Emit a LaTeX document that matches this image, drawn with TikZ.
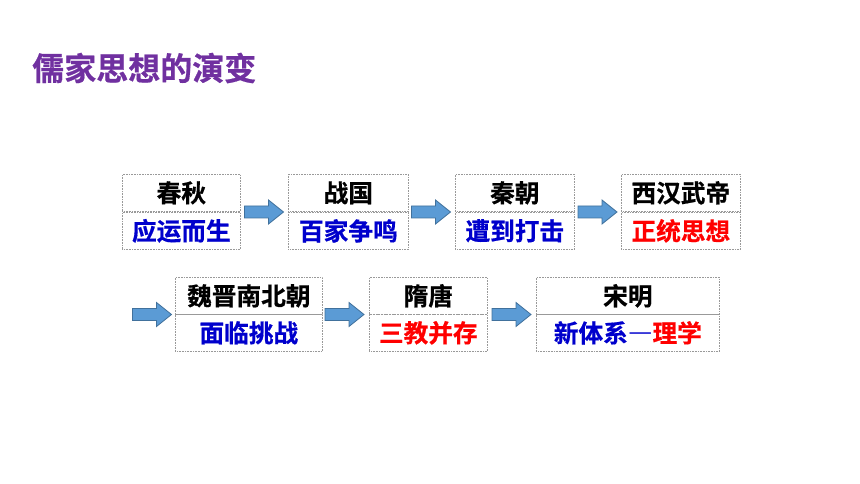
\documentclass[tikz,border=0pt]{standalone}
\usepackage{fontspec}
\newfontfamily\cjk{Noto Sans CJK SC}[BoldFont={Noto Sans CJK SC Bold},BoldFeatures={FakeBold=0.6}]
\definecolor{ttl}{RGB}{112,48,160}
\definecolor{tblue}{RGB}{0,0,204}
\definecolor{tred}{RGB}{255,0,0}
\definecolor{afill}{RGB}{91,155,213}
\definecolor{aline}{RGB}{65,113,156}
\newcommand\flowarrow[2]{%
  \draw[flowline] ($(#1)+(-19.5,-6)$) -- ($(#1)+(4.5,-6)$) -- ($(#1)+(4.5,-12)$)
    -- ($(#1)+(19.5,0)$) -- ($(#1)+(4.5,12)$) -- ($(#1)+(4.5,6)$)
    -- ($(#1)+(-19.5,6)$) -- cycle;}
\usetikzlibrary{calc}
\begin{document}
\begin{tikzpicture}[x=0.75pt,y=-0.75pt,
  cell/.style={draw=gray!80, line width=0.5pt, dash pattern=on 0.6pt off 0.6pt,
    anchor=north west, inner sep=0pt, minimum height=37*0.75pt,
    font=\cjk\bfseries\fontsize{18.5}{21}\selectfont},
  flowline/.style={draw=aline, fill=afill, line width=0.6pt, line join=miter},
]
\useasboundingbox (0,0) rectangle (860,484);
\node[anchor=west, text=ttl, font=\cjk\bfseries\fontsize{24}{28}\selectfont, inner sep=0pt] (title) at (32,68) {儒家思想的演变};
% row 1
\node[cell, minimum width=118*0.75pt] (t1) at (122,174) {春秋};
\node[cell, minimum width=118*0.75pt, text=tblue] (b1) at (122,212) {应运而生};
\node[cell, minimum width=120*0.75pt] (t2) at (288,174) {战国};
\node[cell, minimum width=120*0.75pt, text=tblue] (b2) at (288,212) {百家争鸣};
\node[cell, minimum width=119*0.75pt] (t3) at (455,174) {秦朝};
\node[cell, minimum width=119*0.75pt, text=tblue] (b3) at (455,212) {遭到打击};
\node[cell, minimum width=119*0.75pt] (t4) at (621,174) {西汉武帝};
\node[cell, minimum width=119*0.75pt, text=tred] (b4) at (621,212) {正统思想};
% row 2
\node[cell, minimum width=147*0.75pt] (t5) at (175,277) {魏晋南北朝};
\node[cell, minimum width=147*0.75pt, text=tblue] (b5) at (175,314) {面临挑战};
\node[cell, minimum width=118*0.75pt] (t6) at (369,277) {隋唐};
\node[cell, minimum width=118*0.75pt, text=tred] (b6) at (369,314) {三教并存};
\node[cell, minimum width=183*0.75pt] (t7) at (536,277) {宋明};
\node[cell, minimum width=183*0.75pt] (b7) at (536,314) {\textcolor{tblue}{新体系{\addfontfeature{CharacterWidth=Full}—}}\textcolor{tred}{理学}};
% arrows
\coordinate (a1) at (264,212);
\coordinate (a2) at (431,212);
\coordinate (a3) at (597.5,212);
\coordinate (a4) at (152,314.5);
\coordinate (a5) at (344.5,314.5);
\coordinate (a6) at (511.5,314.5);
\flowarrow{a1}{}
\flowarrow{a2}{}
\flowarrow{a3}{}
\flowarrow{a4}{}
\flowarrow{a5}{}
\flowarrow{a6}{}
\end{tikzpicture}
\end{document}
